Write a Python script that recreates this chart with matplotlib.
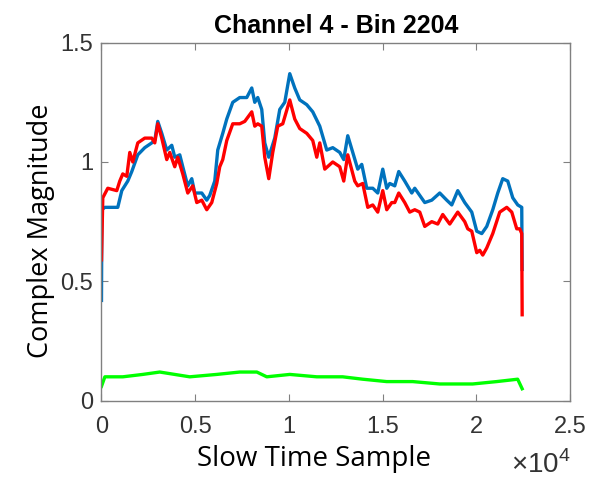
import numpy as np
import matplotlib
matplotlib.use('Agg')
import matplotlib.pyplot as plt
from matplotlib.ticker import FixedLocator, FixedFormatter

# slow time sample index
blue_x = [0, 20, 176, 870, 1083, 1403, 1617, 1937, 2310, 2684, 2844, 3004, 3217, 3484,
          3751, 3911, 4178, 4338, 4605, 4818, 4978, 5352, 5618, 5778, 6045, 6205, 6472,
          6686, 7006, 7379, 7753, 8020, 8180, 8340, 8553, 8713, 8927, 9247, 9514, 9781,
          10048, 10314, 10581, 10955, 11275, 11649, 12022, 12343, 12716, 12929, 13143,
          13410, 13676, 13890, 14157, 14477, 14744, 15011, 15224, 15384, 15651, 15864,
          16184, 16558, 16718, 16985, 17252, 17625, 18052, 18426, 18693, 19013, 19386,
          19760, 20027, 20294, 20560, 20881, 21148, 21414, 21681, 21948, 22215, 22428, 22450]
blue_y = [0.42, 0.80, 0.81, 0.81, 0.88, 0.92, 0.96, 1.03, 1.06, 1.08, 1.09, 1.17, 1.12, 1.05,
          1.07, 1.02, 1.03, 0.98, 0.90, 0.93, 0.87, 0.87, 0.84, 0.86, 0.92, 1.05, 1.12,
          1.18, 1.25, 1.27, 1.27, 1.31, 1.25, 1.27, 1.22, 1.08, 1.02, 1.10, 1.22, 1.25,
          1.37, 1.31, 1.26, 1.24, 1.21, 1.15, 1.05, 1.06, 1.04, 1.01, 1.11,
          1.04, 0.97, 0.99, 0.89, 0.89, 0.87, 0.97, 0.89, 0.91, 0.90, 0.96,
          0.92, 0.87, 0.89, 0.86, 0.83, 0.84, 0.87, 0.84, 0.82, 0.88, 0.83,
          0.79, 0.71, 0.70, 0.73, 0.80, 0.87, 0.93, 0.92, 0.85, 0.82, 0.81, 0.55]

red_x = [0, 70, 336, 816, 976, 1137, 1350, 1510, 1670, 1937, 2310, 2684, 2844, 3004, 3217,
         3484, 3644, 3911, 4071, 4338, 4605, 4871, 5085, 5352, 5618, 5885, 6152, 6312,
         6472, 6686, 7006, 7379, 7646, 8020, 8180, 8340, 8553, 8713, 8927, 9140, 9407,
         9674, 10048, 10314, 10581, 10955, 11275, 11489, 11649, 11916, 12343, 12716,
         12929, 13143, 13516, 13676, 13943, 14210, 14477, 14744, 15011, 15224, 15491,
         15651, 15864, 16184, 16451, 16718, 16985, 17252, 17625, 17945, 18212, 18586,
         19013, 19386, 19546, 19760, 20027, 20187, 20347, 20560, 20881, 21254, 21628,
         21895, 22161, 22321, 22428, 22450]
red_y = [0.59, 0.85, 0.89, 0.88, 0.92, 0.95, 0.94, 1.04, 1.00, 1.08, 1.10, 1.10, 1.08, 1.16, 1.10,
         1.01, 1.04, 0.98, 1.02, 0.95, 0.87, 0.90, 0.83, 0.84, 0.80, 0.83, 0.91, 0.98,
         1.01, 1.09, 1.16, 1.16, 1.17, 1.21, 1.15, 1.16, 1.15, 1.02, 0.93, 1.04, 1.15,
         1.16, 1.26, 1.18, 1.14, 1.12, 1.09, 1.02, 1.08, 0.97, 1.00, 0.98,
         0.92, 1.03, 0.92, 0.90, 0.91, 0.81, 0.82, 0.79, 0.88, 0.80, 0.83,
         0.83, 0.87, 0.83, 0.79, 0.80, 0.79, 0.73, 0.75, 0.74, 0.78, 0.74,
         0.79, 0.75, 0.72, 0.71, 0.62, 0.63, 0.61, 0.64, 0.70, 0.79, 0.81,
         0.79, 0.72, 0.72, 0.70, 0.36]

green_x = [0, 180, 1140, 2200, 3110, 4710, 6150, 7380, 8290, 8820, 10050, 11490, 12870,
           13940, 15220, 16610, 18050, 19810, 21090, 22210, 22450]
green_y = [0.06, 0.10, 0.10, 0.11, 0.12, 0.10, 0.11, 0.12, 0.12, 0.10, 0.11, 0.10, 0.10,
           0.09, 0.08, 0.08, 0.07, 0.07, 0.08, 0.09, 0.05]

x_ticks = [0, 5000, 10000, 15000, 20000, 25000]
x_tick_labels = ['0', '0.5', '1', '1.5', '2', '2.5']
y_ticks = [0, 0.5, 1, 1.5]
y_tick_labels = ['0', '0.5', '1', '1.5']

plt.rcParams['mathtext.fontset'] = 'custom'
plt.rcParams['mathtext.rm'] = 'Liberation Sans'

fig = plt.figure(figsize=(5.9, 4.79), dpi=100)
ax = fig.add_axes([0.172, 0.1635, 0.794, 0.7475])

ax.plot(blue_x, blue_y, color='#0072BD', lw=2.4)
ax.plot(red_x, red_y, color='#FF0000', lw=2.4)
ax.plot(green_x, green_y, color='#00FF00', lw=2.4)

ax.set_xlim(0, 25000)
ax.set_ylim(0, 1.5)
ax.xaxis.set_major_locator(FixedLocator(x_ticks))
ax.xaxis.set_major_formatter(FixedFormatter(x_tick_labels))
ax.yaxis.set_major_locator(FixedLocator(y_ticks))
ax.yaxis.set_major_formatter(FixedFormatter(y_tick_labels))
ax.tick_params(direction='in', top=True, right=True, length=5, width=0.8,
               colors='#808080', labelcolor='#333333', labelsize=17)
ax.tick_params(axis='x', pad=11)
ax.tick_params(axis='y', pad=6)
for lab in ax.get_xticklabels() + ax.get_yticklabels():
    lab.set_fontfamily('Liberation Sans')
for s in ax.spines.values():
    s.set_color('#808080')
    s.set_linewidth(1.0)

ax.set_title('Channel 4 - Bin 2204', fontsize=18, fontweight='bold',
             family='Liberation Sans', pad=7)
ax.set_xlabel('Slow Time Sample', fontsize=20, family='Open Sans', labelpad=5, x=0.453)
ax.set_ylabel('Complex Magnitude', fontsize=19.5, family='Open Sans', labelpad=4, y=0.475)

# exponent label, as MATLAB puts it under the right end of the x axis
fig.text(0.866, 0.012, r'$\times\mathrm{10}^{4}$', fontsize=20, color='#333333')

fig.savefig('out.png', dpi=100)
